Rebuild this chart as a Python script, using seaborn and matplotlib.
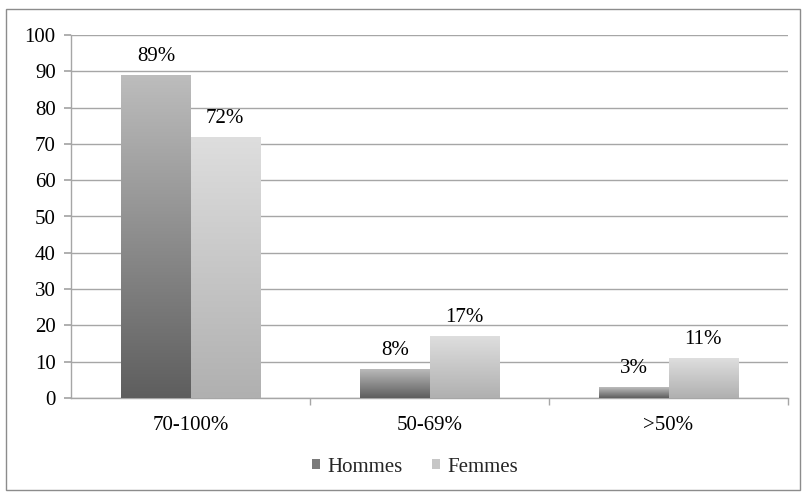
import numpy as np
import pandas as pd
import matplotlib
matplotlib.use("Agg")
import matplotlib.pyplot as plt
import matplotlib.patches as mpatches
from matplotlib.colors import LinearSegmentedColormap
import seaborn as sns

categories = ["70-100%", "50-69%", ">50%"]
hommes = [89, 8, 3]
femmes = [72, 17, 11]
series_names = ["Hommes", "Femmes"]
yticks = [0, 10, 20, 30, 40, 50, 60, 70, 80, 90, 100]

df = pd.DataFrame({
    "cat": categories * 2,
    "val": hommes + femmes,
    "sexe": [series_names[0]] * 3 + [series_names[1]] * 3,
})

sns.set_theme(style="white")
plt.rcParams["font.family"] = ["Liberation Serif", "DejaVu Serif"]

FS = 15

fig = plt.figure(figsize=(8.05, 4.98), dpi=100)
ax = fig.add_axes([71 / 805, 1 - 398 / 498, (788 - 71) / 805, (398 - 35) / 498])

grid_col = "#a6a6a6"
sns.barplot(data=df, x="cat", y="val", hue="sexe", order=categories,
            hue_order=series_names, palette=["#8a8a8a", "#c8c8c8"],
            width=0.578, gap=0, ax=ax, legend=False, zorder=3)

ax.set_xlim(-0.5, 2.5)
ax.set_ylim(0, 100)
ax.set_yticks(yticks)
ax.set_xlabel("")
ax.set_ylabel("")
ax.yaxis.grid(True, color=grid_col, linewidth=1.0, zorder=0)
ax.set_axisbelow(True)

for s in ["top", "right"]:
    ax.spines[s].set_visible(False)
for s in ["left", "bottom"]:
    ax.spines[s].set_color(grid_col)
    ax.spines[s].set_linewidth(1.0)

ax.tick_params(axis="y", which="both", left=True, length=5, color=grid_col,
               labelsize=FS, pad=6, labelcolor="black")
ax.set_xticks([0, 1, 2])
ax.set_xticklabels(categories)
ax.tick_params(axis="x", which="major", bottom=False, labelsize=FS, pad=7,
               labelcolor="black")
ax.set_xticks([0.5, 1.5, 2.5], minor=True)
ax.tick_params(axis="x", which="minor", bottom=True, length=5, color=grid_col,
               width=1.0)

cmap_h = LinearSegmentedColormap.from_list("h", ["#5e5e5e", "#bdbdbd"])
cmap_f = LinearSegmentedColormap.from_list("f", ["#b0b0b0", "#dedede"])
grad = np.linspace(0, 1, 256).reshape(-1, 1)

patches = list(ax.patches)
for i, p in enumerate(patches):
    x0, y0 = p.get_x(), p.get_y()
    w, h = p.get_width(), p.get_height()
    cmap = cmap_h if i < 3 else cmap_f
    p.set_facecolor("none")
    p.set_edgecolor("none")
    im = ax.imshow(grad, cmap=cmap, origin="lower", aspect="auto",
                   extent=[x0, x0 + w, y0, y0 + h], zorder=3,
                   interpolation="bilinear")
    clip = mpatches.Rectangle((x0, y0), w, h, transform=ax.transData)
    im.set_clip_path(clip)
    ax.annotate(f"{int(round(h))}%", xy=(x0 + w / 2, y0 + h),
                xytext=(0, 6.5), textcoords="offset points",
                ha="center", va="bottom", fontsize=FS, color="black", zorder=5)

ax.set_xlim(-0.5, 2.5)
ax.set_ylim(0, 100)

# Legend
handles = [
    mpatches.Patch(facecolor="#7a7a7a", edgecolor="none", label=series_names[0]),
    mpatches.Patch(facecolor="#c6c6c6", edgecolor="none", label=series_names[1]),
]
fig.legend(handles=handles, loc="center", bbox_to_anchor=(415 / 805, 1 - 467 / 498),
           ncol=2, frameon=False, fontsize=FS, handlelength=0.35, handleheight=0.35,
           handletextpad=0.35, columnspacing=1.45)

# Figure border
fig.patches.append(mpatches.Rectangle((6 / 805, 1 - 490 / 498), 794 / 805, 481 / 498,
                                      transform=fig.transFigure, fill=False,
                                      edgecolor="#8c8c8c", linewidth=1.0))

fig.savefig("out.png", dpi=100)
